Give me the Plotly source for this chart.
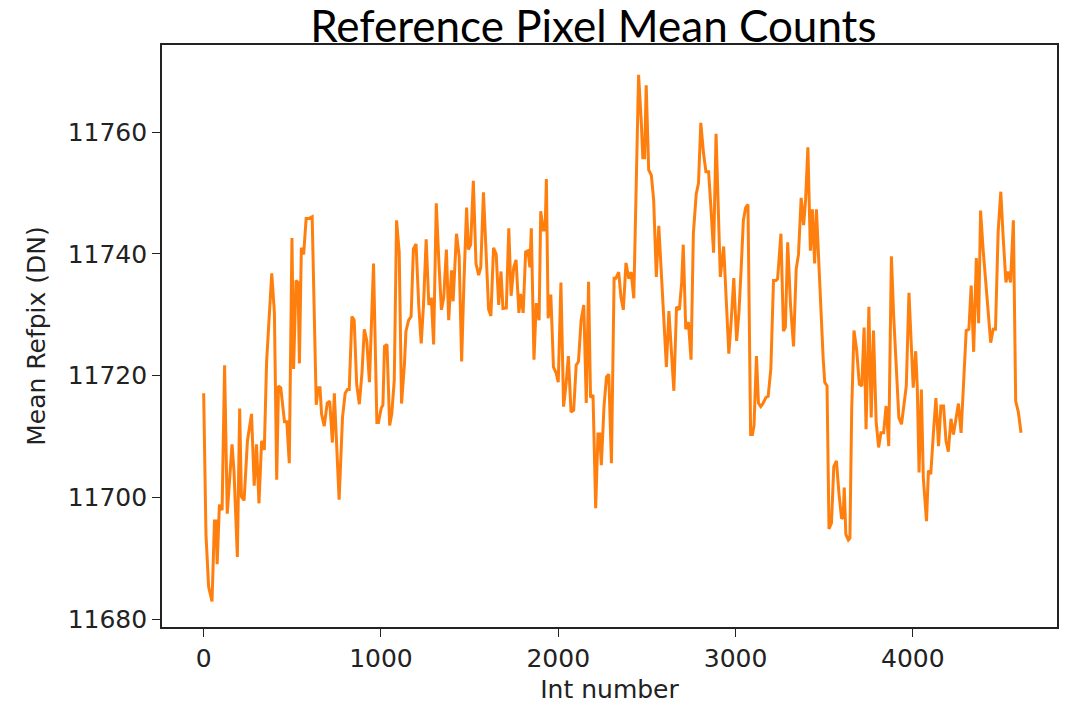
import plotly.graph_objects as go

int_number = [
    0, 13, 28, 47, 61, 70, 76, 89, 104, 118, 133, 160, 171, 190, 203, 213, 228, 247, 270, 285,
    298, 312, 327, 342, 355, 384, 399, 412, 422, 435, 456, 469, 483, 498, 507, 521, 532, 540, 551, 564,
    578, 593, 612, 627, 635, 646, 656, 665, 680, 697, 711, 726, 737, 764, 783, 798, 811, 821, 836, 849,
    863, 878, 893, 906, 920, 935, 958, 977, 986, 1001, 1011, 1020, 1034, 1049,
    1061, 1075, 1088, 1103, 1116, 1132, 1141, 1156, 1170, 1183, 1198, 1213, 1227, 1240, 1255, 1270, 1284, 1297,
    1312, 1327, 1341, 1354, 1369, 1382, 1398, 1407, 1426, 1441, 1455, 1468, 1483, 1493, 1506, 1521, 1536, 1551,
    1563, 1578, 1593, 1607, 1620, 1635, 1650, 1664, 1677, 1688, 1707, 1721, 1734, 1749, 1762, 1778, 1787, 1802,
    1816, 1829, 1840, 1848, 1863, 1876, 1892, 1901, 1916, 1926, 1933, 1943, 1958, 1973, 1987, 2000, 2015, 2030,
    2044, 2057, 2072, 2087, 2101, 2114, 2129, 2144, 2158, 2171, 2182, 2196, 2211, 2224, 2234, 2243, 2258, 2272,
    2285, 2300, 2315,
    2325, 2341, 2354, 2367, 2382, 2398, 2411, 2426, 2439, 2453, 2468, 2477, 2487, 2496, 2510, 2525, 2538, 2553,
    2567, 2582, 2597, 2610, 2624, 2639, 2652, 2667, 2683, 2696, 2705, 2719, 2734, 2749, 2762, 2778, 2791, 2804,
    2819, 2833, 2848, 2861, 2876, 2890, 2901, 2914, 2933, 2949, 2962, 2975, 2990, 3006, 3019, 3032, 3044, 3057,
    3070, 3085, 3095, 3104, 3118, 3129, 3142, 3156, 3171, 3184, 3199, 3214, 3228, 3237, 3256, 3270, 3281, 3294,
    3310, 3327, 3342, 3355, 3370, 3384, 3395, 3408, 3422, 3433, 3446, 3456, 3469, 3481, 3494,
    3503, 3516, 3527, 3541, 3554, 3569, 3583, 3598, 3607, 3613, 3622, 3636, 3645, 3655, 3668, 3683, 3698, 3712,
    3725, 3736, 3752, 3765, 3778, 3793, 3807, 3820, 3835, 3849, 3864, 3879, 3892, 3907, 3921, 3936, 3949, 3963,
    3978, 3991, 4002, 4016, 4025, 4035, 4048, 4059, 4077, 4088, 4101, 4116, 4130, 4145, 4158, 4173, 4187, 4200,
    4215, 4229, 4244, 4257, 4272, 4287, 4301, 4316, 4329, 4343, 4358, 4371, 4382, 4396, 4424, 4439, 4453, 4466,
    4481, 4496, 4510, 4525, 4538, 4551, 4567, 4580, 4595, 4610,
]

mean_refpix = [
    11717.1, 11693.9, 11685.3, 11682.9, 11696.1, 11696.1, 11689.0, 11698.8, 11697.9, 11721.7,
    11697.3, 11708.7, 11704.4, 11690.2, 11714.6, 11700.1, 11699.5, 11709.3, 11713.7, 11701.9,
    11708.7, 11699.0, 11709.3, 11707.8, 11722.3, 11736.8, 11730.3, 11702.9, 11718.3, 11718.0,
    11712.4, 11712.4, 11705.6, 11742.6, 11721.1, 11735.6, 11735.3, 11722.0, 11741.0, 11739.9,
    11745.8, 11745.8, 11746.1, 11725.4, 11715.2, 11718.0, 11718.0, 11713.7, 11711.7, 11715.5,
    11715.8, 11709.0, 11717.1, 11699.6, 11713.1, 11717.1, 11717.7, 11717.7, 11729.7, 11729.1,
    11718.6, 11715.3, 11720.5, 11727.6, 11725.7, 11718.9, 11738.4, 11712.3, 11712.3, 11714.6,
    11715.2, 11724.8, 11725.1, 11711.8,
    11713.7, 11719.2, 11745.5, 11740.2, 11715.4, 11721.7, 11727.3, 11729.1, 11729.7, 11740.8,
    11741.6, 11731.6, 11725.3, 11731.6, 11742.4, 11731.6, 11732.8, 11725.1, 11748.3, 11738.4,
    11730.8, 11732.8, 11740.7, 11729.1, 11737.3, 11732.2, 11743.3, 11739.6, 11722.3, 11735.3,
    11747.6, 11740.7, 11741.5, 11752.0, 11738.4, 11736.5, 11737.8, 11750.1, 11740.5, 11730.9,
    11729.8, 11741.0, 11739.9, 11731.6, 11737.1, 11731.0, 11731.1, 11744.2, 11733.1, 11737.8,
    11739.0, 11730.3, 11733.4, 11730.3, 11740.3, 11740.5, 11737.8, 11744.2, 11722.6, 11731.9,
    11729.1, 11747.0, 11743.9, 11743.9, 11752.3, 11729.4, 11733.3, 11721.4, 11720.5, 11718.9,
    11735.3, 11714.9, 11718.6, 11723.2, 11714.0, 11714.3, 11721.7, 11722.3, 11729.1, 11731.6,
    11715.5, 11735.4, 11716.4, 11716.8, 11698.2, 11710.4, 11710.4, 11705.3, 11714.9, 11719.8,
    11720.2, 11705.6, 11736.0,
    11736.0, 11737.0, 11732.8, 11730.8, 11738.5, 11735.9, 11737.0, 11732.7, 11750.7, 11769.4,
    11761.8, 11755.8, 11755.8, 11767.7, 11753.8, 11752.9, 11748.9, 11736.2, 11744.6, 11736.5,
    11727.9, 11721.4, 11730.6, 11724.2, 11717.5, 11731.3, 11730.8, 11735.3, 11741.5, 11727.6,
    11728.8, 11722.6, 11743.3, 11749.8, 11751.6, 11761.5, 11756.6, 11753.5, 11753.5, 11747.6,
    11740.2, 11759.7, 11748.9, 11736.2, 11741.2, 11731.6, 11723.6, 11728.8, 11736.0, 11725.7,
    11730.3, 11737.8, 11745.5, 11747.6, 11748.1, 11710.3, 11710.3, 11711.8, 11723.2, 11715.5,
    11714.9, 11715.5, 11716.4, 11716.6, 11721.1, 11735.6, 11735.6, 11735.9, 11743.3, 11727.3,
    11727.9, 11741.9, 11731.6, 11724.8, 11737.5, 11739.9, 11749.2, 11744.7, 11748.9, 11757.5,
    11740.5, 11747.3, 11738.4, 11747.3, 11738.4, 11731.6, 11722.9,
    11718.9, 11718.3, 11694.8, 11695.8, 11705.0, 11706.0, 11700.7, 11696.5, 11696.7, 11701.6,
    11693.9, 11693.0, 11693.3, 11714.3, 11727.4, 11724.2, 11718.6, 11718.3, 11727.9, 11711.2,
    11731.3, 11713.1, 11727.4, 11712.4, 11708.2, 11710.6, 11710.6, 11715.0, 11708.4, 11739.6,
    11729.7, 11720.5, 11713.1, 11712.0, 11715.2, 11718.3, 11733.6, 11724.2, 11718.0, 11724.0,
    11718.1, 11704.1, 11717.7, 11703.2, 11696.1, 11704.4, 11703.8, 11710.6, 11716.3, 11708.4,
    11715.0, 11715.0, 11709.3, 11707.5, 11712.9, 11710.3, 11713.4, 11715.4, 11710.6, 11719.2,
    11727.4, 11727.6, 11734.8, 11723.9, 11739.3, 11728.6, 11747.1, 11740.8, 11730.9, 11725.4,
    11727.6, 11727.6, 11743.6, 11750.2, 11742.4, 11735.3, 11737.1, 11735.3, 11745.5, 11715.8,
    11714.0, 11710.6,
]

x_ticks = [0, 1000, 2000, 3000, 4000]
y_ticks = [11680, 11700, 11720, 11740, 11760]

fig = go.Figure()
fig.add_trace(go.Scatter(
    x=int_number, y=mean_refpix, mode="lines",
    line=dict(color="#ff7f0e", width=3),
    showlegend=False,
))

axis_font = dict(family="'DejaVu Sans', Verdana, sans-serif", size=25, color="#222222")

fig.update_layout(
    width=1069, height=707,
    margin=dict(l=162, r=12, t=45, b=80),
    paper_bgcolor="white", plot_bgcolor="white",
    title=dict(
        text="Reference Pixel Mean Counts",
        font=dict(family="Lato", size=44, color="black"),
        x=0.555, xref="container", xanchor="center",
        y=0.962, yref="container", yanchor="middle",
    ),
    xaxis=dict(
        range=[-235, 4813], tickvals=x_ticks, ticktext=[str(v) for v in x_ticks],
        showgrid=False, zeroline=False, automargin=False,
        showline=True, linecolor="#222222", linewidth=1.6, mirror=True,
        ticks="outside", ticklen=8, tickwidth=1.4, tickcolor="#222222",
        tickfont=axis_font,
        title=dict(text="Int number", font=axis_font, standoff=9),
    ),
    yaxis=dict(
        range=[11678.7, 11774.3], tickvals=y_ticks, ticktext=[str(v) for v in y_ticks],
        showgrid=False, zeroline=False, automargin=False,
        showline=True, linecolor="#222222", linewidth=1.6, mirror=True,
        ticks="outside", ticklen=8, tickwidth=1.4, tickcolor="#222222",
        tickfont=axis_font,
        title=dict(text="Mean Refpix (DN)", font=axis_font, standoff=15),
    ),
)

fig.write_html("out.html")
